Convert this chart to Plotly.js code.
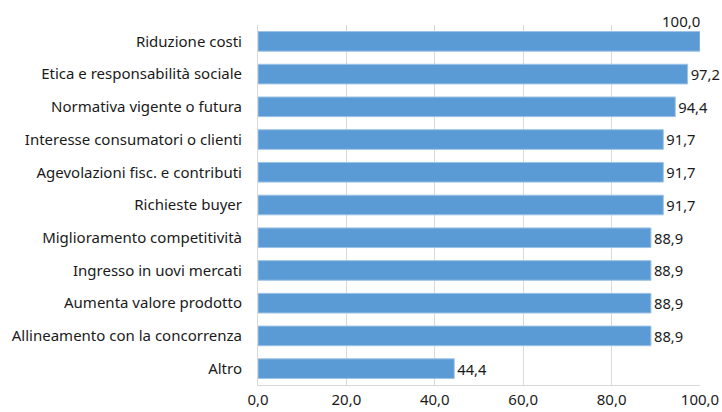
<!DOCTYPE html>
<html><head><meta charset="utf-8">
<script src="https://cdn.plot.ly/plotly-3.0.1.min.js"></script>
<style>body{margin:0;background:#fff}</style>
</head><body><div id="chart" style="width:722px;height:412px"></div>
<script>
const categories = ["Riduzione costi","Etica e responsabilità sociale","Normativa vigente o futura","Interesse consumatori o clienti","Agevolazioni fisc. e contributi","Richieste buyer","Miglioramento competitività","Ingresso in uovi mercati","Aumenta valore prodotto","Allineamento con la concorrenza","Altro"];
const values = [100.0,97.2,94.4,91.7,91.7,91.7,88.9,88.9,88.9,88.9,44.4];
const tickVals = [0,20,40,60,80,100];
const tickText = ["0,0","20,0","40,0","60,0","80,0","100,0"];
const fmt = v => v.toFixed(1).replace('.', ',');
const font = {family:"Noto Sans, sans-serif", size:15, color:"#1a1a1a"};
const trace = {
  type:"bar", orientation:"h", y:categories, x:values,
  marker:{color:"#5B9BD5", line:{color:"#9DC3E6", width:1}},
  width:0.6,
  text:values.map(fmt),
  textposition:values.map(v => v >= 100 ? "none" : "outside"),
  textfont:font, cliponaxis:false, hoverinfo:"none"
};
const annotations = categories.map((c,i)=>({c,v:values[i]})).filter(d=>d.v>=100).map(d=>({
  x:d.v, y:d.c, xref:"x", yref:"y", text:fmt(d.v), showarrow:false,
  xanchor:"right", yanchor:"bottom", yshift:8, xshift:2, font:font
}));
const layout = {
  width:722, height:412, margin:{l:258, r:22, t:25, b:27},
  paper_bgcolor:"#fff", plot_bgcolor:"#fff", showlegend:false,
  font:font, bargap:0.4, annotations:annotations,
  xaxis:{range:[0,100], tickvals:tickVals, ticktext:tickText, showgrid:true, gridcolor:"#d9d9d9", gridwidth:1,
    zeroline:false, showline:true, linecolor:"#d9d9d9", ticks:"outside", ticklen:1, tickcolor:"rgba(0,0,0,0)", tickfont:font, fixedrange:true},
  yaxis:{autorange:"reversed", showline:true, linecolor:"#d9d9d9", ticks:"outside", ticklen:12, tickcolor:"rgba(0,0,0,0)", tickfont:font, showgrid:false}
};
Plotly.newPlot("chart",[trace],layout,{displayModeBar:false, staticPlot:true});
</script></body></html>
